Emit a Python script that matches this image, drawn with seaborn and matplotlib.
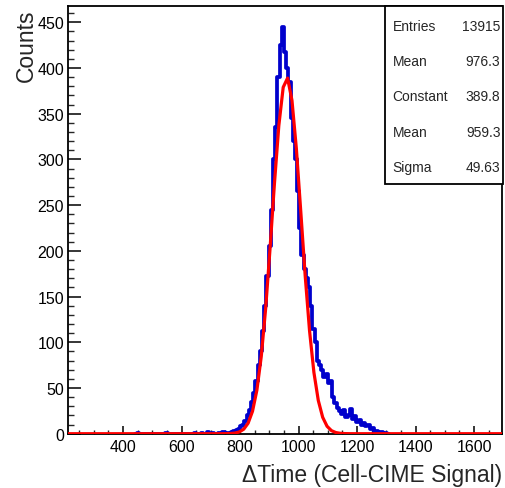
import numpy as np
import pandas as pd
import matplotlib
matplotlib.use("Agg")
import matplotlib.pyplot as plt
from matplotlib.ticker import MultipleLocator
from matplotlib.patches import Rectangle
import seaborn as sns

# ---- data ----
HIST_START = 440.0
BIN_WIDTH = 7.5
counts = [
    0, 1, 0, 0, 0, 0, 0, 0, 0, 0, 0, 0, 0, 0, 1, 0, 0, 0, 0, 0, 0,
    0, 0, 0, 0, 0, 0, 1, 0, 0, 1, 0, 0, 2, 0, 1, 0, 0, 1, 0, 2, 1,
    1, 1, 2, 3, 4, 5, 8, 10, 14, 20, 26, 35, 45, 58, 75, 90, 112, 140,
    172, 205, 245, 300, 335, 390, 425, 445, 418, 400, 385, 345, 320, 300,
    265, 225, 195, 180, 170, 160, 140, 115, 100, 80, 75, 70, 62, 65, 55,
    58, 40, 34, 28, 25, 22, 26, 18, 20, 27, 16, 19, 13, 15, 10, 12, 8, 9,
    5, 6, 2, 3, 1, 2, 1, 1, 0,
]
fit_constant = 389.8
fit_mean = 959.3
fit_sigma = 49.63
stats_labels = ["Entries", "Mean", "Constant", "Mean", "Sigma"]
stats_values = ["13915", "976.3", "389.8", "959.3", "49.63"]
x_range = (213, 1697)
y_range = (0, 467.5)

# ---- style ----
sns.set_style("ticks")
plt.rcParams["font.family"] = ["Liberation Sans", "DejaVu Sans"]

W, H = 506, 489
fig = plt.figure(figsize=(W / 100, H / 100), dpi=100)
ax_l, ax_r, ax_t, ax_b = 68.3, 502.5, 7.3, 434.7
ax = fig.add_axes([ax_l / W, (H - ax_b) / H, (ax_r - ax_l) / W, (ax_b - ax_t) / H])

n = len(counts)
centers = HIST_START + BIN_WIDTH * (np.arange(n) + 0.5)
df = pd.DataFrame({"dt": centers, "count": np.asarray(counts, dtype=float)})
sns.histplot(data=df, x="dt", weights="count", binwidth=BIN_WIDTH,
             binrange=(HIST_START, HIST_START + BIN_WIDTH * n),
             element="step", fill=False, color="#0000cc", linewidth=2.7,
             ax=ax, zorder=2)

xs = np.linspace(x_range[0], x_range[1], 100)
ys = fit_constant * np.exp(-0.5 * ((xs - fit_mean) / fit_sigma) ** 2)
sns.lineplot(x=xs, y=ys, color="#ff0000", linewidth=2.3, ax=ax, zorder=3)

ax.set_xlim(*x_range)
ax.set_ylim(*y_range)

for s in ax.spines.values():
    s.set_visible(True)
    s.set_color("black")
    s.set_linewidth(1.3)

ax.xaxis.set_major_locator(MultipleLocator(200))
ax.xaxis.set_minor_locator(MultipleLocator(50))
ax.yaxis.set_major_locator(MultipleLocator(50))
ax.yaxis.set_minor_locator(MultipleLocator(10))
ax.tick_params(axis="x", which="major", direction="in", length=6, width=1.1,
               labelsize=11.5, pad=4, top=False, colors="black")
ax.tick_params(axis="x", which="minor", direction="in", length=3, width=1.0, top=False)
ax.tick_params(axis="y", which="major", direction="in", length=9, width=1.1,
               labelsize=11.5, pad=3, right=False, colors="black")
ax.tick_params(axis="y", which="minor", direction="in", length=4.5, width=1.0, right=False)

ax.set_xlabel("\u0394Time (Cell-CIME Signal)", fontsize=16.5, loc="right")
ax.xaxis.set_label_coords(1.0, -0.069)
ax.set_ylabel("Counts", fontsize=16.5, loc="top")
ax.yaxis.set_label_coords(-0.070, 0.994)

# stats box
bx0, bx1, by0, by1 = 385, 503, 7, 185
fig.patches.append(Rectangle((bx0 / W, (H - by1) / H), (bx1 - bx0) / W, (by1 - by0) / H,
                             transform=fig.transFigure, facecolor="white",
                             edgecolor="black", linewidth=1.3, zorder=5))
baselines = [31, 66.2, 101.4, 136.6, 171.8]
for lab, val, yb in zip(stats_labels, stats_values, baselines):
    fig.text(392.7 / W, (H - yb) / H, lab, fontsize=10, ha="left", va="baseline", zorder=6)
    fig.text(500.5 / W, (H - yb) / H, val, fontsize=10, ha="right", va="baseline", zorder=6)

fig.savefig("out.png", dpi=100)
